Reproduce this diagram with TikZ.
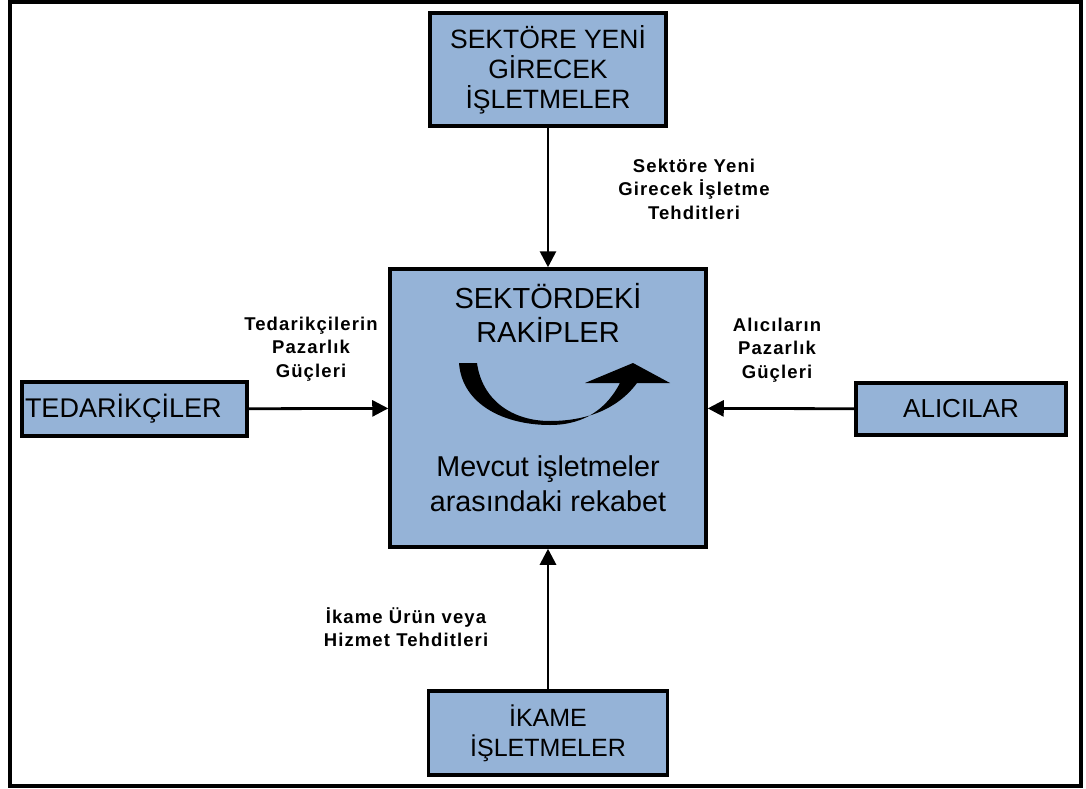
\documentclass[tikz,border=0pt]{standalone}
\usepackage{fontspec}
\setmainfont{Liberation Sans}
\usetikzlibrary{arrows.meta}
\definecolor{boxblue}{RGB}{149,179,215}

\begin{document}
\begin{tikzpicture}[x=1pt,y=-1pt,
  box/.style={draw=black, line width=3.5pt, fill=boxblue, inner sep=0pt,
    align=center, font=\fontsize{26.5}{30}\selectfont},
  boxtext/.style={align=center, inner sep=0pt, font=\fontsize{29}{34.5}\selectfont},
  lbl/.style={align=center, inner sep=0pt,
    font=\bfseries\fontsize{18.5}{23.5}\selectfont\addfontfeature{LetterSpace=6}},
  flow/.style={line width=2.8pt, -{Triangle[length=16pt,width=16pt]}}]
\useasboundingbox (0,0) rectangle (1086,789);

% outer frame
\draw[line width=4pt] (10,2) rectangle (1081,786);

% the five forces
\node[box, minimum width=236pt, minimum height=113pt] (entrants) at (548,69.5)
  {SEKTÖRE YENİ\\GİRECEK\\İŞLETMELER};
\node[box, minimum width=316pt, minimum height=278pt] (rivals) at (548,408) {};
\node[box, minimum width=225pt, minimum height=54pt, text width=219pt, align=left,
  font=\fontsize{27}{30}\selectfont] (suppliers) at (134.5,409) {TEDARİKÇİLER};
\node[box, minimum width=210pt, minimum height=52pt, font=\fontsize{26}{30}\selectfont]
  (buyers) at (961,409) {ALICILAR};
\node[box, minimum width=239pt, minimum height=84pt, font=\fontsize{25}{30}\selectfont]
  (substitutes) at (548,733) {İKAME\\İŞLETMELER};

% contents of the central box
\node[boxtext] (rivalstitle) at (548,313) {SEKTÖRDEKİ\\RAKİPLER};
\node[boxtext, font=\fontsize{28.7}{35}\selectfont] (rivalsnote) at (548,483.5)
  {Mevcut işletmeler\\arasındaki rekabet};

% rivalry arrow
\fill[black] (459,363) -- (477,363)
  .. controls (482,400) and (512,421) .. (550,421)
  .. controls (585,421) and (617,410) .. (637,383)
  -- (670,383) -- (633,363) -- (585,383) -- (620,383)
  .. controls (607,408) and (585,425) .. (550,425)
  .. controls (505,425) and (462,405) .. (459,363) -- cycle;

% connectors
\draw[flow] (entrants) -- (rivals);
\draw[flow] (suppliers) -- (rivals);
\draw[flow] (buyers) -- (rivals);
\draw[flow] (substitutes) -- (rivals);

% connector labels
\node[lbl] (lentrants) at (694,189) {Sektöre Yeni\\Girecek İşletme\\Tehditleri};
\node[lbl] (lsuppliers) at (311,349) {Tedarikçilerin\\Pazarlık\\Güçleri};
\node[lbl] (lbuyers) at (777,350) {Alıcıların\\Pazarlık\\Güçleri};
\node[lbl] (lsubstitutes) at (406,627) {İkame Ürün veya\\Hizmet Tehditleri};
\end{tikzpicture}
\end{document}
